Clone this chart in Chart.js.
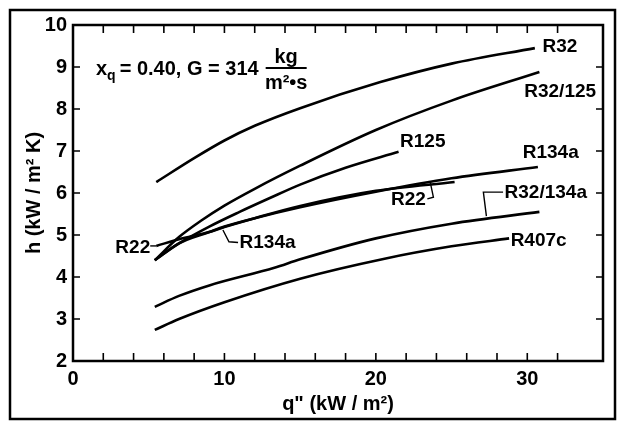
<!DOCTYPE html>
<html>
<head>
<meta charset="utf-8">
<script src="https://cdn.jsdelivr.net/npm/chart.js@4"></script>
<style>
  html, body { margin: 0; padding: 0; background: #fff; }
  #wrap { width: 618px; height: 422px; }
</style>
</head>
<body>
<div id="wrap"><canvas id="hChart" width="618" height="422"></canvas></div>
<script>
// heat flux q" (kW/m2) and heat transfer coefficient h (kW/m2 K)
const r32Q = [5.5, 8, 10, 12, 15, 20.3, 25, 30.5];
const r32H = [6.26, 6.83, 7.25, 7.6, 8.02, 8.64, 9.08, 9.45];

const r32125Q = [5.4, 7, 8.5, 10, 12, 15, 20, 25, 30.8];
const r32125H = [4.4, 4.95, 5.35, 5.7, 6.1, 6.65, 7.5, 8.2, 8.88];

const r125Q = [5.4, 7, 9, 11, 13, 15, 18, 21.5];
const r125H = [4.4, 4.8, 5.2, 5.55, 5.88, 6.2, 6.6, 6.98];

const r134aQ = [5.4, 7, 9, 10, 12, 15, 20, 25, 30.7];
const r134aH = [4.4, 4.8, 5.07, 5.2, 5.4, 5.66, 6.03, 6.35, 6.62];

const r22Q = [5.5, 7, 9, 10, 12, 15, 20, 25.2];
const r22H = [4.74, 4.9, 5.07, 5.19, 5.4, 5.69, 6.05, 6.26];

const r32134aQ = [5.4, 7, 9, 13.3, 15, 20, 25, 30.8];
const r32134aH = [3.29, 3.55, 3.8, 4.22, 4.42, 4.92, 5.27, 5.55];

const r407cQ = [5.4, 7, 10, 15, 20.5, 25, 28.8];
const r407cH = [2.74, 3.0, 3.4, 3.96, 4.43, 4.73, 4.92];

const xTickLabels = [0, 10, 20, 30];

// curve labels: text, q, h, alignment
const curveLabels = [
    { text: "R32", q: 31.0, h: 9.48, align: "left" },
    { text: "R32/125", q: 29.8, h: 8.4, align: "left" },
    { text: "R125", q: 21.6, h: 7.21, align: "left" },
    { text: "R134a", q: 29.7, h: 6.95, align: "left" },
    { text: "R22", q: 23.3, h: 5.83, align: "right" },
    { text: "R32/134a", q: 28.5, h: 6.0, align: "left" },
    { text: "R22", q: 5.1, h: 4.7, align: "right" },
    { text: "R134a", q: 11.0, h: 4.81, align: "left" },
    { text: "R407c", q: 28.9, h: 4.86, align: "left" }
];

// leader lines from label to curve
const leaders = [
    [[5.1, 4.74], [5.5, 4.74]],
    [[10.9, 4.82], [10.3, 4.84], [9.9, 5.12]],
    [[23.4, 5.86], [23.8, 5.9], [23.6, 6.24]],
    [[28.4, 6.02], [27.1, 6.02], [27.3, 5.45]]
];

function toPoints(qs, hs) {
    return qs.map((q, i) => ({ x: q, y: hs[i] }));
}

const seriesList = [
    ["R32", r32Q, r32H],
    ["R32/125", r32125Q, r32125H],
    ["R125", r125Q, r125H],
    ["R134a", r134aQ, r134aH],
    ["R22", r22Q, r22H],
    ["R32/134a", r32134aQ, r32134aH],
    ["R407c", r407cQ, r407cH]
];

const boldFont = "'Liberation Sans', Arial, sans-serif";

// frame, inward ticks, labels and the title text
const decorPlugin = {
    id: "decor",
    beforeDraw(chart) {
        const ctx = chart.ctx;
        ctx.save();
        ctx.strokeStyle = "#000";
        ctx.lineWidth = 2.5;
        ctx.strokeRect(10, 10, 605, 409);
        ctx.restore();
    },
    afterDraw(chart) {
        const ctx = chart.ctx;
        const xs = chart.scales.x;
        const ys = chart.scales.y;
        const a = chart.chartArea;
        ctx.save();
        ctx.strokeStyle = "#000";
        ctx.lineWidth = 2.5;
        ctx.strokeRect(a.left, a.top, a.right - a.left, a.bottom - a.top);

        ctx.lineWidth = 1.6;
        ctx.beginPath();
        xs.ticks.forEach(t => {
            const px = xs.getPixelForValue(t.value);
            if (px <= a.left + 2 || px >= a.right - 2) return;
            ctx.moveTo(px, a.bottom); ctx.lineTo(px, a.bottom - 8);
            ctx.moveTo(px, a.top); ctx.lineTo(px, a.top + 8);
        });
        ys.ticks.forEach(t => {
            const py = ys.getPixelForValue(t.value);
            if (py <= a.top + 2 || py >= a.bottom - 2) return;
            ctx.moveTo(a.left, py); ctx.lineTo(a.left + 7, py);
            ctx.moveTo(a.right, py); ctx.lineTo(a.right - 7, py);
        });
        ctx.stroke();

        // leader lines
        ctx.lineWidth = 1.4;
        leaders.forEach(pts => {
            ctx.beginPath();
            pts.forEach((p, i) => {
                const px = xs.getPixelForValue(p[0]);
                const py = ys.getPixelForValue(p[1]);
                if (i === 0) ctx.moveTo(px, py); else ctx.lineTo(px, py);
            });
            ctx.stroke();
        });

        // curve labels
        ctx.fillStyle = "#000";
        ctx.font = "bold 19px " + boldFont;
        ctx.textBaseline = "middle";
        curveLabels.forEach(l => {
            ctx.textAlign = l.align;
            ctx.fillText(l.text, xs.getPixelForValue(l.q), ys.getPixelForValue(l.h));
        });

        // condition text
        ctx.textAlign = "left";
        ctx.textBaseline = "alphabetic";
        let x0 = a.left + 23;
        const base = a.top + 50;
        ctx.font = "bold 20px " + boldFont;
        ctx.fillText("x", x0, base);
        x0 += ctx.measureText("x").width;
        ctx.font = "bold 14px " + boldFont;
        ctx.fillText("q", x0, base + 5);
        x0 += ctx.measureText("q").width + 4;
        ctx.font = "bold 20px " + boldFont;
        const mid = "= 0.40, G = 314";
        ctx.fillText(mid, x0, base);
        x0 += ctx.measureText(mid).width + 7;
        const fw = 41;
        ctx.textAlign = "center";
        ctx.fillText("kg", x0 + fw / 2, base - 12);
        ctx.fillText("m²•s", x0 + fw / 2, base + 14);
        ctx.lineWidth = 1.8;
        ctx.beginPath();
        ctx.moveTo(x0, base - 7);
        ctx.lineTo(x0 + fw, base - 7);
        ctx.stroke();
        ctx.restore();
    }
};

const chart = new Chart(document.getElementById("hChart"), {
    type: "line",
    data: {
        datasets: seriesList.map(s => ({
            label: s[0],
            data: toPoints(s[1], s[2]),
            borderColor: "#000",
            borderWidth: 2.6,
            pointRadius: 0,
            fill: false,
            cubicInterpolationMode: "monotone"
        }))
    },
    options: {
        responsive: false,
        animation: false,
        layout: { padding: { left: 22, top: 25, right: 15, bottom: 6 } },
        plugins: {
            legend: { display: false },
            tooltip: { enabled: false }
        },
        scales: {
            x: {
                type: "linear",
                min: 0,
                max: 35,
                ticks: {
                    stepSize: 2,
                    autoSkip: false,
                    maxRotation: 0,
                    padding: 6,
                    color: "#000",
                    font: { family: boldFont, size: 20, weight: "bold" },
                    callback: v => xTickLabels.includes(v) ? String(v) : ""
                },
                grid: { display: false, drawTicks: false },
                border: { display: false },
                title: {
                    display: true,
                    text: 'q" (kW / m²)',
                    color: "#000",
                    padding: { top: 0, bottom: 0 },
                    font: { family: boldFont, size: 20, weight: "bold" }
                },
                afterFit(scale) { scale.height = 55; }
            },
            y: {
                min: 2,
                max: 10,
                ticks: {
                    stepSize: 1,
                    padding: 6,
                    color: "#000",
                    font: { family: boldFont, size: 20, weight: "bold" }
                },
                grid: { display: false, drawTicks: false },
                border: { display: false },
                title: {
                    display: true,
                    text: "h (kW / m² K)",
                    color: "#000",
                    padding: { top: 0, bottom: 0 },
                    font: { family: boldFont, size: 20, weight: "bold" }
                },
                afterFit(scale) { scale.width = 51; }
            }
        }
    },
    plugins: [decorPlugin]
});
</script>
</body>
</html>
